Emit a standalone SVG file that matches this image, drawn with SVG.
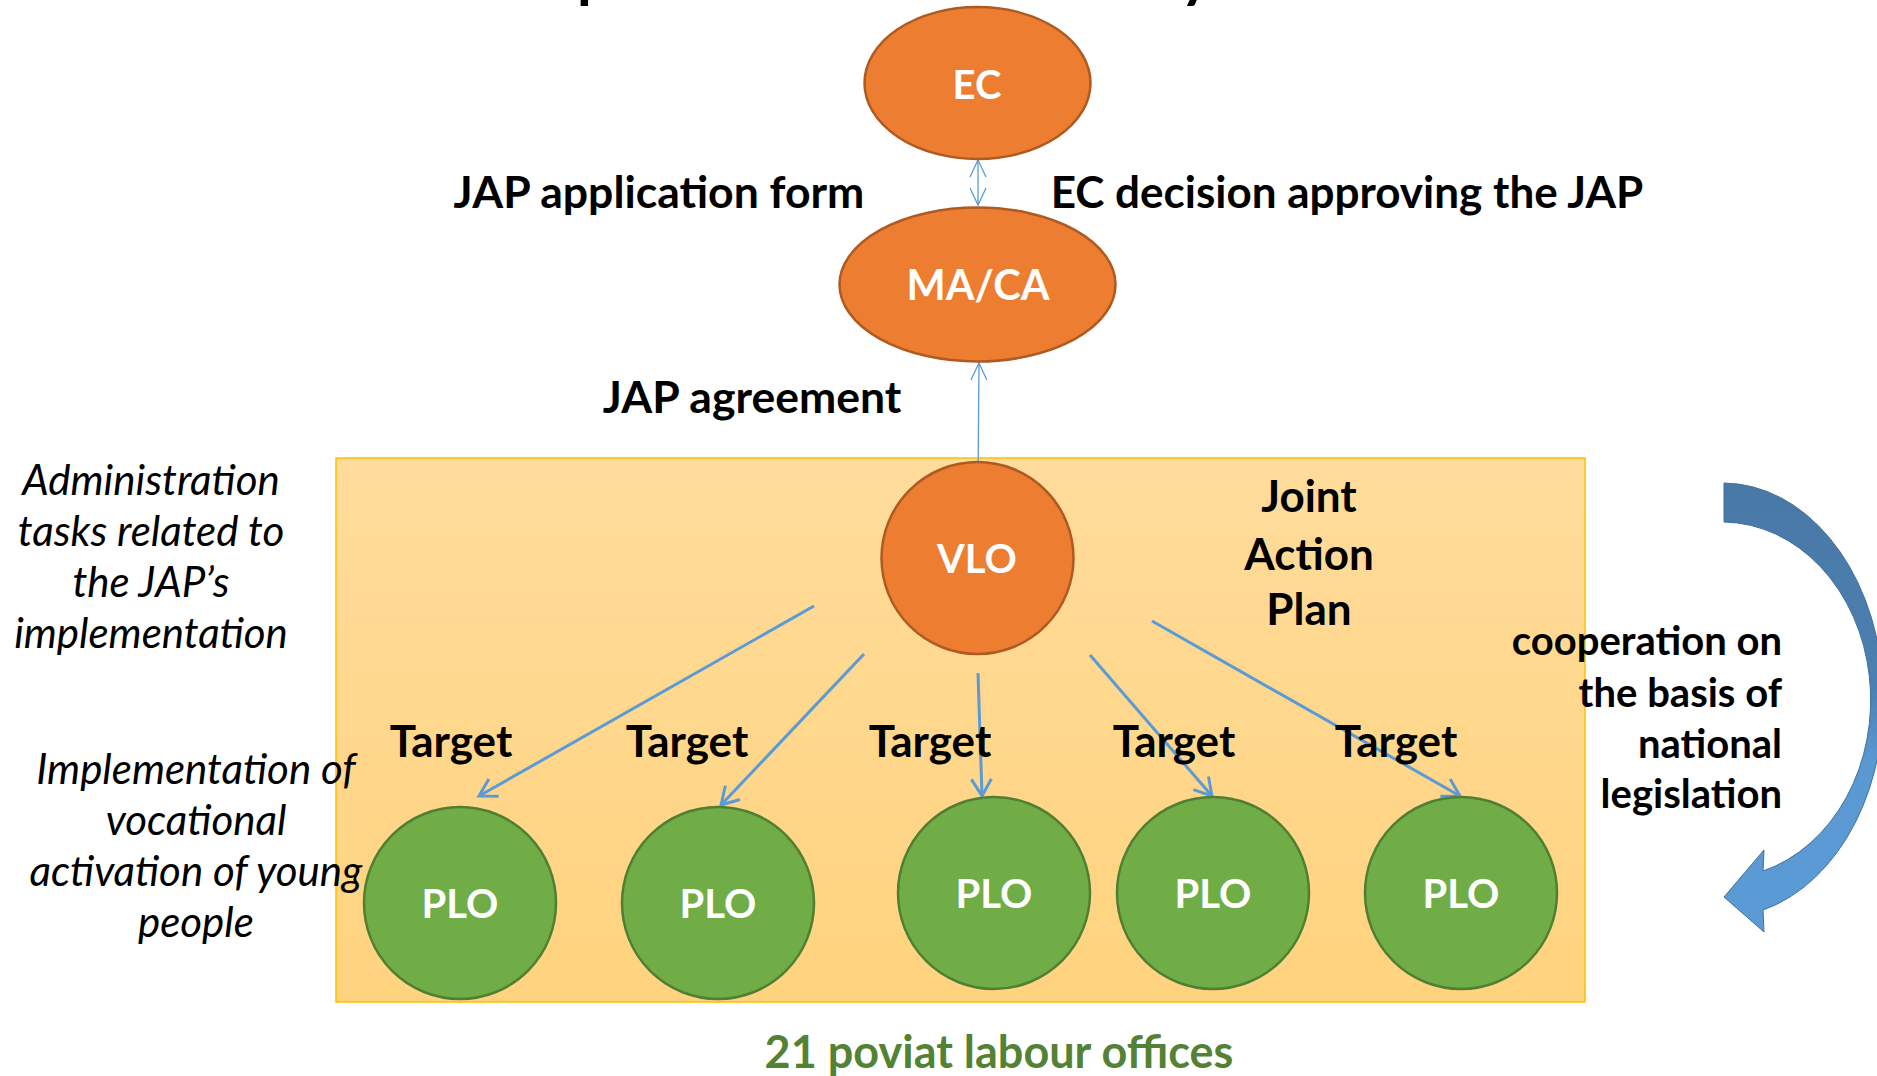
<svg xmlns="http://www.w3.org/2000/svg" width="1877" height="1076" viewBox="0 0 1877 1076">
<style>
.lbl{font-family:Lato,"Open Sans","Liberation Sans",sans-serif;font-weight:bold;fill:#000;}
.wt{font-family:Lato,"Open Sans","Liberation Sans",sans-serif;font-weight:bold;fill:#fff;text-anchor:middle;}
.it{font-family:Lato,"Open Sans","Liberation Sans",sans-serif;font-style:italic;fill:#000;text-anchor:middle;font-size:42px;}
.orange{fill:#ED7D31;stroke:#AE5A21;stroke-width:2.5;}
.green{fill:#70AD47;stroke:#507E32;stroke-width:2.5;}
.thin{stroke:#5B9BD5;stroke-width:1.3;fill:none;}
.thick{stroke:#5B9BD5;stroke-width:3;fill:none;}
</style>
<defs>
<linearGradient id="boxg" x1="0" y1="0" x2="0" y2="1">
<stop offset="0" stop-color="#FFDC9C"/>
<stop offset="1" stop-color="#FFD37E"/>
</linearGradient>
<linearGradient id="curveg" gradientUnits="userSpaceOnUse" x1="0" y1="483" x2="0" y2="932">
<stop offset="0" stop-color="#4878A6"/>
<stop offset="0.45" stop-color="#4C80B2"/>
<stop offset="0.62" stop-color="#5A98D2"/>
<stop offset="1" stop-color="#5B9BD5"/>
</linearGradient>
<marker id="hthin" markerUnits="userSpaceOnUse" viewBox="0 0 20 20" markerWidth="20" markerHeight="20" refX="17" refY="10" orient="auto-start-reverse" overflow="visible">
<path d="M0,2 L17,10 L0,18" fill="none" stroke="#5B9BD5" stroke-width="1.3"/>
</marker>
<marker id="hthick" markerUnits="userSpaceOnUse" viewBox="0 0 20 20" markerWidth="20" markerHeight="20" refX="17" refY="10" orient="auto" overflow="visible">
<path d="M0,0 L17,10 L0,20" fill="none" stroke="#5B9BD5" stroke-width="3"/>
</marker>
</defs>

<rect width="1877" height="1076" fill="#fff"/>

<g id="title-fragment" class="lbl" font-size="60">
<text x="577" y="-4">p</text>
<text x="1180" y="-4">y</text>
</g>

<g id="jap-box">
<rect x="336" y="458" width="1249" height="544" fill="url(#boxg)" stroke="#FFC000" stroke-width="1.5"/>
</g>

<g id="curved-arrow">
<path d="M1724,483 A161,217 0 0 1 1763,910 L1764,932 L1724,897 L1764,850 L1763,871 A149,178 0 0 0 1724,522 Z" fill="url(#curveg)" stroke="#41719C" stroke-width="1"/>
</g>

<g id="connectors">
<line class="thin" x1="978" y1="160" x2="978" y2="205" marker-start="url(#hthin)" marker-end="url(#hthin)"/>
<line class="thin" x1="979" y1="363" x2="978" y2="481" marker-start="url(#hthin)" marker-end="url(#hthin)"/>
<line class="thick" x1="814" y1="606" x2="479" y2="796" marker-end="url(#hthick)"/>
<line class="thick" x1="864" y1="654" x2="721" y2="805" marker-end="url(#hthick)"/>
<line class="thick" x1="978" y1="673" x2="982" y2="796" marker-end="url(#hthick)"/>
<line class="thick" x1="1090" y1="655" x2="1212" y2="796" marker-end="url(#hthick)"/>
<line class="thick" x1="1152" y1="621" x2="1460" y2="796" marker-end="url(#hthick)"/>
</g>

<g id="node-ec">
<ellipse class="orange" cx="977.5" cy="83" rx="113" ry="76"/>
<text class="wt" x="977" y="99" font-size="40">EC</text>
</g>
<g id="node-maca">
<ellipse class="orange" cx="977.5" cy="284.5" rx="138" ry="77"/>
<text class="wt" x="978" y="300" font-size="41.5">MA/CA</text>
</g>
<g id="node-vlo">
<circle class="orange" cx="977.5" cy="558" r="96"/>
<text class="wt" x="977" y="573" font-size="40">VLO</text>
</g>
<g id="node-plo1">
<circle class="green" cx="460" cy="903" r="96"/>
<text class="wt" x="460" y="918" font-size="40">PLO</text>
</g>
<g id="node-plo2">
<circle class="green" cx="718" cy="903" r="96"/>
<text class="wt" x="718" y="918" font-size="40">PLO</text>
</g>
<g id="node-plo3">
<circle class="green" cx="994" cy="893" r="96"/>
<text class="wt" x="994" y="908" font-size="40">PLO</text>
</g>
<g id="node-plo4">
<circle class="green" cx="1213" cy="893" r="96"/>
<text class="wt" x="1213" y="908" font-size="40">PLO</text>
</g>
<g id="node-plo5">
<circle class="green" cx="1461" cy="893" r="96"/>
<text class="wt" x="1461" y="908" font-size="40">PLO</text>
</g>

<g id="labels">
<text class="lbl" x="659" y="208" font-size="44.5" text-anchor="middle">JAP application form</text>
<text class="lbl" x="1347" y="208" font-size="44" text-anchor="middle">EC decision approving the JAP</text>
<text class="lbl" x="752" y="413" font-size="44.5" text-anchor="middle">JAP agreement</text>
<text class="lbl" font-size="44" text-anchor="middle"><tspan x="1309" y="512">Joint</tspan><tspan x="1309" y="570">Action</tspan><tspan x="1309" y="625">Plan</tspan></text>
<text class="lbl" font-size="44" text-anchor="middle"><tspan x="451" y="757">Target</tspan><tspan x="687" y="757">Target</tspan><tspan x="930" y="757">Target</tspan><tspan x="1174" y="757">Target</tspan><tspan x="1396" y="757">Target</tspan></text>
<text class="lbl" font-size="40" text-anchor="end"><tspan x="1782" y="655">cooperation on</tspan><tspan x="1782" y="707">the basis of</tspan><tspan x="1782" y="758">national</tspan><tspan x="1782" y="808">legislation</tspan></text>
<text class="it"><tspan x="151" y="495">Administration</tspan><tspan x="151" y="546">tasks related to</tspan><tspan x="151" y="597">the JAP’s</tspan><tspan x="151" y="648">implementation</tspan></text>
<text class="it"><tspan x="196" y="784">Implementation of</tspan><tspan x="196" y="835">vocational</tspan><tspan x="196" y="886">activation of young</tspan><tspan x="196" y="937">people</tspan></text>
<text class="lbl" x="999" y="1068" font-size="45" text-anchor="middle" style="fill:#548235">21 poviat labour offices</text>
</g>
</svg>
